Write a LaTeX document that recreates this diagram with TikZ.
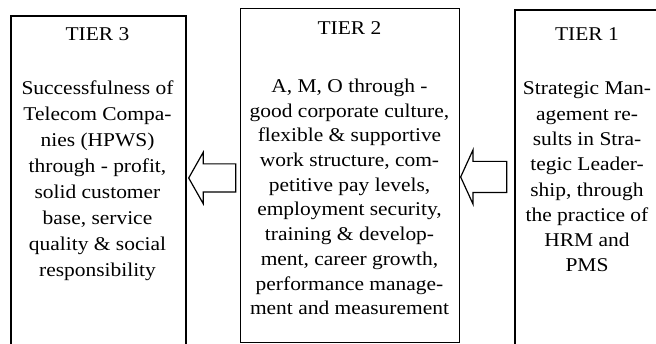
\documentclass[tikz,border=0pt]{standalone}
\usepackage{fontspec}
\setmainfont{Liberation Serif}[FakeStretch=1.1]
\usetikzlibrary{shapes.arrows}

\begin{document}
\begin{tikzpicture}[x=1pt,y=-1pt,
	tierbox/.style={draw, rectangle, anchor=north west, inner sep=0pt},
	tiertitle/.style={anchor=base, inner sep=0pt, font=\fontsize{19.5}{24}\selectfont},
	tiertext/.style={anchor=north, inner sep=0pt, align=center},
	flowarrow/.style={draw, single arrow, shape border rotate=180, anchor=tip, line width=1.2pt,
		inner xsep=0pt, single arrow head extend=11.5pt}]
	\useasboundingbox (0,0) rectangle (656,344);
	\clip (0,0) rectangle (656,344);

	% the three tiers
	\node[tierbox, line width=1.6pt, minimum width=175pt, minimum height=345pt] (tier3) at (10,15) {};
	\node[tierbox, line width=0.9pt, minimum width=219pt, minimum height=334pt] (tier2) at (240,8) {};
	\node[tierbox, line width=1.6pt, minimum width=146pt, minimum height=345pt] (tier1) at (514,9) {};

	\node[tiertitle] (title3) at (97.5,41) {TIER 3};
	\node[tiertitle] (title2) at (349.5,35) {TIER 2};
	\node[tiertitle] (title1) at (587,41) {TIER 1};

	\node[tiertext, font=\fontsize{19.5}{26}\selectfont] (text3) at (97.5,80.7)
		{Successfulness of\\Telecom Compa-\\nies (HPWS)\\through - profit,\\solid customer\\base, service\\quality \& social\\responsibility};
	\node[tiertext, font=\fontsize{19.5}{24.7}\selectfont] (text2) at (349.5,78.7)
		{A, M, O through -\\good corporate culture,\\flexible \& supportive\\work structure, com-\\petitive pay levels,\\employment security,\\training \& develop-\\ment, career growth,\\performance manage-\\ment and measurement};
	\node[tiertext, font=\fontsize{19.5}{25.3}\selectfont] (text1) at (587,81.7)
		{Strategic Man-\\agement re-\\sults in Stra-\\tegic Leader-\\ship, through\\the practice of\\HRM and\\PMS};

	% arrows between tiers
	\node[flowarrow, inner ysep=13.5pt, minimum height=47pt, single arrow tip angle=121] (arrow23) at (188,178) {};
	\node[flowarrow, inner ysep=15pt, minimum height=46pt, single arrow tip angle=131] (arrow12) at (460,177) {};

\end{tikzpicture}
\end{document}
